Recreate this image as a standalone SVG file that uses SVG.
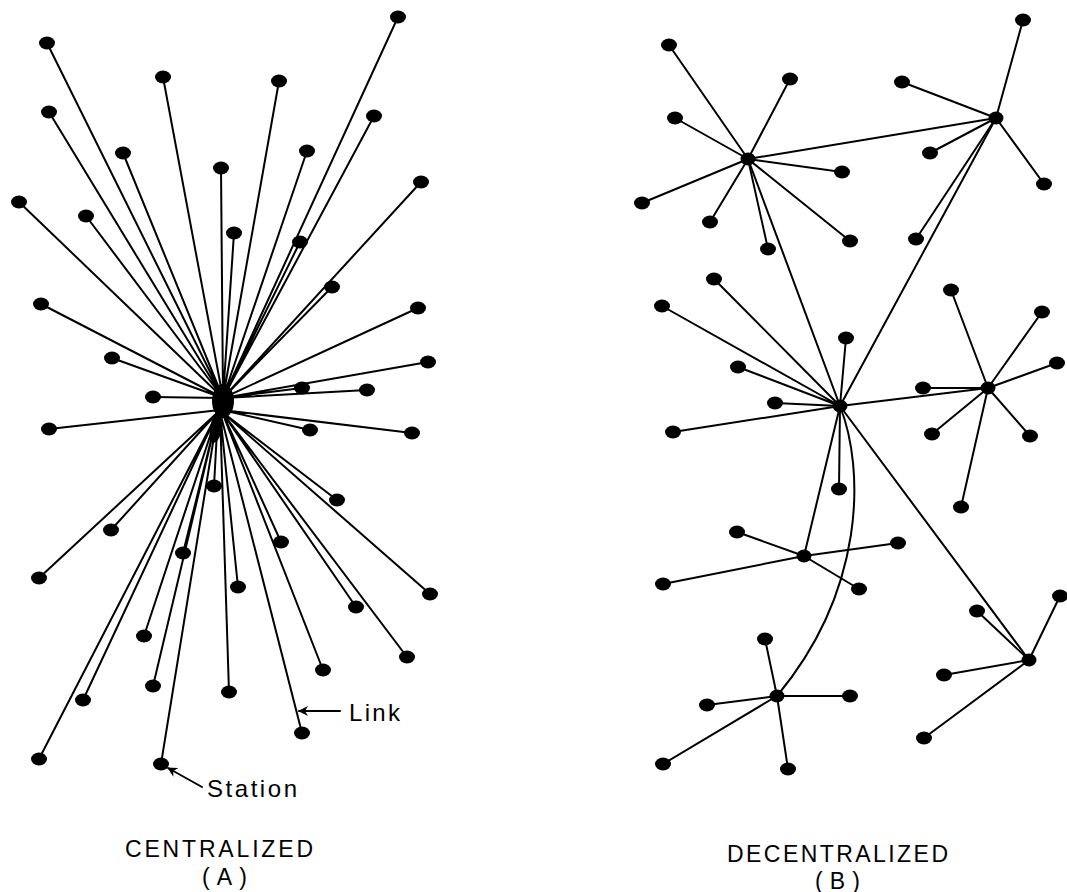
<svg xmlns="http://www.w3.org/2000/svg" width="1067" height="892" viewBox="0 0 1067 892">
<style>
.l{stroke:#000;stroke-width:2;fill:none;stroke-linecap:round}
.n{fill:#000}
.t{font-family:"Liberation Sans",Arial,sans-serif;font-size:24px;fill:#000}
.c{font-family:"Liberation Sans",Arial,sans-serif;font-size:23px;fill:#000}
</style>
<defs>
<marker id="ah" viewBox="0 0 10 10" refX="9" refY="5" markerWidth="5" markerHeight="5" orient="auto-start-reverse" markerUnits="strokeWidth">
<path d="M0,0 L10,5 L0,10 L3,5 Z" fill="#000"/>
</marker>
</defs>
<rect width="1067" height="892" fill="#fff"/>
<g id="connectors">
<path class="l" d="M47,43L223,398M163,77L223,398M279,81L223,398M398,17L223,398M49,112L223,398M374,116L223,398M123,153L223,398M307,151L223,398M221,168L223,398M421,182L223,398M19,202L223,398M86,216L223,398M234,233L223,398M300,242L223,398M332,287L223,398M41,304L223,398M418,308L223,398M112,358L223,398M428,362L223,398M153,397L223,398M302,388L223,398M367,390L223,398"/>
<path class="l" d="M49,429L220,410M310,430L222,410M412,433L222,410M214,486L218,412M337,500L222,412M111,530L218,412M183,553L218,412M281,542L222,412M39,578L218,412M238,587L220,412M430,594L222,412M356,607L222,412M144,636L218,412M407,657L222,412M323,670L222,412M153,686L218,412M83,700L218,412M229,692L220,412M302,733L220,412M39,759L218,412M161,764L218,412"/>
<path class="l" d="M748,159L669,45M748,159L790,79M748,159L675,118M748,159L842,172M748,159L642,203M748,159L710,222M748,159L850,241M748,159L768,249"/>
<path class="l" d="M996,118L1023,20M996,118L902,82M996,118L930,153M996,118L1044,184M996,118L916,239"/>
<path class="l" d="M840,406L662,306M840,406L714,279M840,406L738,367M840,406L775,403M840,406L673,432M840,406L846,338M840,406L839,489"/>
<path class="l" d="M988,388L951,290M988,388L1042,312M988,388L1057,363M988,388L923,388M988,388L932,434M988,388L1030,436M988,388L961,507"/>
<path class="l" d="M804,556L737,532M804,556L663,584M804,556L898,543M804,556L859,589"/>
<path class="l" d="M1029,660L977,611M1029,660L1060,596M1029,660L944,675M1029,660L924,738"/>
<path class="l" d="M777,696L765,639M777,696L707,705M777,696L850,696M777,696L663,764M777,696L788,769"/>
<path class="l" d="M748,159L996,118M748,159L840,406M996,118L840,406M840,406L988,388M840,406L804,556M840,406L1029,660"/>
<path class="l" d="M840,406C865,470 865,590 777,696"/>
<path class="l" d="M340,711L299,711" marker-end="url(#ah)"/>
<path class="l" d="M202,787L168,768" marker-end="url(#ah)"/>
</g>
<g id="hub-centralized">
<ellipse class="n" cx="223" cy="401" rx="11" ry="17"/>
<ellipse class="n" cx="216" cy="428" rx="6" ry="15" transform="rotate(10 216 428)"/>
</g>
<g id="stations-centralized">
<g id="c1"><ellipse class="n" cx="47" cy="43" rx="8" ry="6.5"/></g>
<g id="c2"><ellipse class="n" cx="163" cy="77" rx="8" ry="6.5"/></g>
<g id="c3"><ellipse class="n" cx="279" cy="81" rx="8" ry="6.5"/></g>
<g id="c4"><ellipse class="n" cx="398" cy="17" rx="8" ry="6.5"/></g>
<g id="c5"><ellipse class="n" cx="49" cy="112" rx="8" ry="6.5"/></g>
<g id="c6"><ellipse class="n" cx="374" cy="116" rx="8" ry="6.5"/></g>
<g id="c7"><ellipse class="n" cx="123" cy="153" rx="8" ry="6.5"/></g>
<g id="c8"><ellipse class="n" cx="307" cy="151" rx="8" ry="6.5"/></g>
<g id="c9"><ellipse class="n" cx="221" cy="168" rx="8" ry="6.5"/></g>
<g id="c10"><ellipse class="n" cx="421" cy="182" rx="8" ry="6.5"/></g>
<g id="c11"><ellipse class="n" cx="19" cy="202" rx="8" ry="6.5"/></g>
<g id="c12"><ellipse class="n" cx="86" cy="216" rx="8" ry="6.5"/></g>
<g id="c13"><ellipse class="n" cx="234" cy="233" rx="8" ry="6.5"/></g>
<g id="c14"><ellipse class="n" cx="300" cy="242" rx="8" ry="6.5"/></g>
<g id="c15"><ellipse class="n" cx="332" cy="287" rx="8" ry="6.5"/></g>
<g id="c16"><ellipse class="n" cx="41" cy="304" rx="8" ry="6.5"/></g>
<g id="c17"><ellipse class="n" cx="418" cy="308" rx="8" ry="6.5"/></g>
<g id="c18"><ellipse class="n" cx="112" cy="358" rx="8" ry="6.5"/></g>
<g id="c19"><ellipse class="n" cx="428" cy="362" rx="8" ry="6.5"/></g>
<g id="c20"><ellipse class="n" cx="153" cy="397" rx="8" ry="6.5"/></g>
<g id="c21"><ellipse class="n" cx="302" cy="388" rx="8" ry="6.5"/></g>
<g id="c22"><ellipse class="n" cx="367" cy="390" rx="8" ry="6.5"/></g>
<g id="c23"><ellipse class="n" cx="49" cy="429" rx="8" ry="6.5"/></g>
<g id="c24"><ellipse class="n" cx="310" cy="430" rx="8" ry="6.5"/></g>
<g id="c25"><ellipse class="n" cx="412" cy="433" rx="8" ry="6.5"/></g>
<g id="c26"><ellipse class="n" cx="214" cy="486" rx="8" ry="6.5"/></g>
<g id="c27"><ellipse class="n" cx="337" cy="500" rx="8" ry="6.5"/></g>
<g id="c28"><ellipse class="n" cx="111" cy="530" rx="8" ry="6.5"/></g>
<g id="c29"><ellipse class="n" cx="183" cy="553" rx="8" ry="6.5"/></g>
<g id="c30"><ellipse class="n" cx="281" cy="542" rx="8" ry="6.5"/></g>
<g id="c31"><ellipse class="n" cx="39" cy="578" rx="8" ry="6.5"/></g>
<g id="c32"><ellipse class="n" cx="238" cy="587" rx="8" ry="6.5"/></g>
<g id="c33"><ellipse class="n" cx="430" cy="594" rx="8" ry="6.5"/></g>
<g id="c34"><ellipse class="n" cx="356" cy="607" rx="8" ry="6.5"/></g>
<g id="c35"><ellipse class="n" cx="144" cy="636" rx="8" ry="6.5"/></g>
<g id="c36"><ellipse class="n" cx="407" cy="657" rx="8" ry="6.5"/></g>
<g id="c37"><ellipse class="n" cx="323" cy="670" rx="8" ry="6.5"/></g>
<g id="c38"><ellipse class="n" cx="153" cy="686" rx="8" ry="6.5"/></g>
<g id="c39"><ellipse class="n" cx="83" cy="700" rx="8" ry="6.5"/></g>
<g id="c40"><ellipse class="n" cx="229" cy="692" rx="8" ry="6.5"/></g>
<g id="c41"><ellipse class="n" cx="302" cy="733" rx="8" ry="6.5"/></g>
<g id="c42"><ellipse class="n" cx="39" cy="759" rx="8" ry="6.5"/></g>
<g id="c43"><ellipse class="n" cx="161" cy="764" rx="8" ry="6.5"/></g>
</g>
<g id="hubs-decentralized">
<g id="hA"><ellipse class="n" cx="748" cy="159" rx="7.5" ry="6.5"/></g>
<g id="hB"><ellipse class="n" cx="996" cy="118" rx="7.5" ry="6.5"/></g>
<g id="hC"><ellipse class="n" cx="840" cy="406" rx="7.5" ry="6.5"/></g>
<g id="hD"><ellipse class="n" cx="988" cy="388" rx="7.5" ry="6.5"/></g>
<g id="hE"><ellipse class="n" cx="804" cy="556" rx="7.5" ry="6.5"/></g>
<g id="hF"><ellipse class="n" cx="1029" cy="660" rx="7.5" ry="6.5"/></g>
<g id="hG"><ellipse class="n" cx="777" cy="696" rx="7.5" ry="6.5"/></g>
</g>
<g id="stations-decentralized">
<g id="d1"><ellipse class="n" cx="669" cy="45" rx="8" ry="6.5"/></g>
<g id="d2"><ellipse class="n" cx="790" cy="79" rx="8" ry="6.5"/></g>
<g id="d3"><ellipse class="n" cx="675" cy="118" rx="8" ry="6.5"/></g>
<g id="d4"><ellipse class="n" cx="842" cy="172" rx="8" ry="6.5"/></g>
<g id="d5"><ellipse class="n" cx="642" cy="203" rx="8" ry="6.5"/></g>
<g id="d6"><ellipse class="n" cx="710" cy="222" rx="8" ry="6.5"/></g>
<g id="d7"><ellipse class="n" cx="850" cy="241" rx="8" ry="6.5"/></g>
<g id="d8"><ellipse class="n" cx="768" cy="249" rx="8" ry="6.5"/></g>
<g id="d9"><ellipse class="n" cx="1023" cy="20" rx="8" ry="6.5"/></g>
<g id="d10"><ellipse class="n" cx="902" cy="82" rx="8" ry="6.5"/></g>
<g id="d11"><ellipse class="n" cx="930" cy="153" rx="8" ry="6.5"/></g>
<g id="d12"><ellipse class="n" cx="1044" cy="184" rx="8" ry="6.5"/></g>
<g id="d13"><ellipse class="n" cx="916" cy="239" rx="8" ry="6.5"/></g>
<g id="d14"><ellipse class="n" cx="662" cy="306" rx="8" ry="6.5"/></g>
<g id="d15"><ellipse class="n" cx="714" cy="279" rx="8" ry="6.5"/></g>
<g id="d16"><ellipse class="n" cx="738" cy="367" rx="8" ry="6.5"/></g>
<g id="d17"><ellipse class="n" cx="775" cy="403" rx="8" ry="6.5"/></g>
<g id="d18"><ellipse class="n" cx="673" cy="432" rx="8" ry="6.5"/></g>
<g id="d19"><ellipse class="n" cx="846" cy="338" rx="8" ry="6.5"/></g>
<g id="d20"><ellipse class="n" cx="839" cy="489" rx="8" ry="6.5"/></g>
<g id="d21"><ellipse class="n" cx="951" cy="290" rx="8" ry="6.5"/></g>
<g id="d22"><ellipse class="n" cx="1042" cy="312" rx="8" ry="6.5"/></g>
<g id="d23"><ellipse class="n" cx="1057" cy="363" rx="8" ry="6.5"/></g>
<g id="d24"><ellipse class="n" cx="923" cy="388" rx="8" ry="6.5"/></g>
<g id="d25"><ellipse class="n" cx="932" cy="434" rx="8" ry="6.5"/></g>
<g id="d26"><ellipse class="n" cx="1030" cy="436" rx="8" ry="6.5"/></g>
<g id="d27"><ellipse class="n" cx="961" cy="507" rx="8" ry="6.5"/></g>
<g id="d28"><ellipse class="n" cx="737" cy="532" rx="8" ry="6.5"/></g>
<g id="d29"><ellipse class="n" cx="663" cy="584" rx="8" ry="6.5"/></g>
<g id="d30"><ellipse class="n" cx="898" cy="543" rx="8" ry="6.5"/></g>
<g id="d31"><ellipse class="n" cx="859" cy="589" rx="8" ry="6.5"/></g>
<g id="d32"><ellipse class="n" cx="977" cy="611" rx="8" ry="6.5"/></g>
<g id="d33"><ellipse class="n" cx="1060" cy="596" rx="8" ry="6.5"/></g>
<g id="d34"><ellipse class="n" cx="944" cy="675" rx="8" ry="6.5"/></g>
<g id="d35"><ellipse class="n" cx="924" cy="738" rx="8" ry="6.5"/></g>
<g id="d36"><ellipse class="n" cx="765" cy="639" rx="8" ry="6.5"/></g>
<g id="d37"><ellipse class="n" cx="707" cy="705" rx="8" ry="6.5"/></g>
<g id="d38"><ellipse class="n" cx="850" cy="696" rx="8" ry="6.5"/></g>
<g id="d39"><ellipse class="n" cx="663" cy="764" rx="8" ry="6.5"/></g>
<g id="d40"><ellipse class="n" cx="788" cy="769" rx="8" ry="6.5"/></g>
</g>
<g id="labels">
<text class="t" x="349" y="721" textLength="51" lengthAdjust="spacing">Link</text>
<text class="t" x="207" y="797" textLength="90" lengthAdjust="spacing">Station</text>
<text class="c" x="125" y="857" textLength="188" lengthAdjust="spacing">CENTRALIZED</text>
<text class="c" x="202" y="885" textLength="45" lengthAdjust="spacing">(A)</text>
<text class="c" x="727" y="862" textLength="221" lengthAdjust="spacing">DECENTRALIZED</text>
<text class="c" x="815" y="889" textLength="45" lengthAdjust="spacing">(B)</text>
</g>
</svg>
